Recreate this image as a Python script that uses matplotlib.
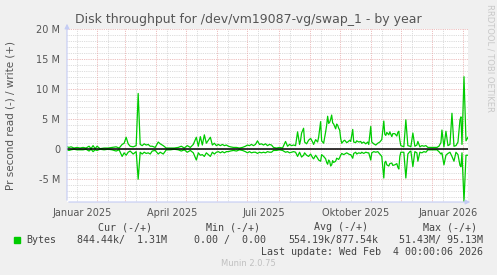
import numpy as np
import matplotlib
matplotlib.use('Agg')
import matplotlib.pyplot as plt
from datetime import datetime, timedelta

# munin year view: 400 days ending at last update
end = datetime(2026, 2, 4)
start = end - timedelta(days=400)

# samples: day offset from start, write (+) and read (-) in MB/s
days = [0, 2, 4, 7, 10, 13, 16, 19, 22, 24, 26, 28, 30, 33,
        37, 41, 45, 49, 52, 55, 57, 59, 61, 63, 66, 69, 71,
        73, 75, 77, 79, 81, 83, 85, 88, 91, 93, 96, 99,
        103, 107, 111, 114, 117, 120, 123, 126, 129, 131,
        133, 135, 137, 139, 141, 143, 145, 147, 149, 151,
        153, 155, 157, 159, 161, 163,
        166, 169, 172, 175, 178, 180, 182, 184, 186, 188,
        190, 192, 194, 196, 198, 200, 202, 204, 206, 209,
        212, 215, 218, 220, 222, 224, 226, 228,
        230, 232, 233, 234, 236, 237, 239, 241, 243, 245,
        246, 248, 250, 251, 253, 254, 256, 258, 259, 260,
        261, 262, 263, 264, 265, 266, 268, 269, 270, 271, 272, 273,
        274, 276, 277, 279, 280, 282, 283, 285, 286, 288,
        289, 291, 293, 294, 296, 298, 300, 301, 303, 304,
        306, 308, 310, 312, 314, 316, 317, 318, 319, 321,
        322, 324, 325, 327, 329, 330, 331, 332, 333,
        336, 338, 340, 342, 343, 345, 347, 349, 350, 352,
        354, 356, 358, 360, 363, 366, 369, 371, 373, 374,
        376, 378, 380, 382, 384, 386, 388, 390, 392, 393,
        394, 396, 398, 400]
write_mb = [0.4, 0.3, 0.4, 0.2, 0.3, 0.2, 0.3, 0.2, 0.5, 0.1, 0.6, 0.1, 0.5, 0.1,
            0.2, 0.2, 0.3, 0.4, 0.2, 0.8, 1.0, 2.0, 0.9, 0.5, 0.4, 0.6, 9.3,
            0.8, 0.6, 0.9, 0.7, 0.8, 0.5, 0.5, 0.3, 1.2, 0.9, 0.6, 0.2,
            0.2, 0.2, 0.3, 0.5, 0.2, 0.6, 0.3, 0.8, 2.0, 0.5,
            2.1, 0.7, 2.4, 1.0, 1.5, 2.0, 0.7, 1.0, 0.6, 0.8,
            0.6, 0.8, 0.6, 0.7, 0.5, 0.4,
            0.3, 0.3, 0.2, 0.3, 0.5, 0.7, 0.6, 0.8, 0.6, 0.8,
            1.4, 0.8, 0.9, 0.7, 0.9, 0.6, 0.8, 0.7, 0.3, 0.2,
            0.3, 0.2, 1.3, 0.5, 0.8, 0.6, 0.7, 0.6,
            2.9, 0.8, 1.5, 2.7, 3.5, 1.2, 0.9, 1.5, 1.8, 1.2,
            0.8, 1.6, 1.2, 2.0, 4.6, 1.4, 1.0, 2.9, 4.0, 5.5,
            4.3, 4.5, 5.0, 5.7, 4.4, 4.2, 3.4, 4.2, 4.0, 3.5, 3.2, 1.8,
            1.0, 1.4, 1.5, 1.1, 1.2, 1.5, 1.3, 3.3, 1.2, 1.1,
            1.4, 1.2, 1.3, 1.0, 1.2, 0.9, 1.2, 0.8, 3.8, 1.2,
            0.9, 0.7, 1.0, 1.2, 1.6, 4.7, 2.5, 2.3, 2.8, 2.4,
            2.9, 2.1, 2.6, 2.6, 2.2, 2.8, 3.0, 1.5, 0.6,
            0.4, 4.9, 0.6, 0.5, 0.4, 2.7, 0.5, 0.7, 1.3, 0.4,
            0.6, 0.5, 0.6, 0.3, 0.3, 0.3, 0.3, 0.5, 1.1, 3.2,
            0.4, 3.0, 0.6, 0.8, 6.0, 0.5, 0.6, 1.2, 4.9, 5.4,
            0.8, 12.1, 1.4, 2.0]
read_mb = [0.1, 0.2, 0.1, 0.0, 0.1, 0.1, 0.1, 0.0, 0.3, 0.0, 0.4, 0.1, 0.2, 0.0,
           0.1, 0.0, 0.1, 0.3, 0.1, 1.2, 0.6, 1.0, 0.5, 0.3, 0.8, 0.4, 5.0,
           0.5, 0.8, 0.5, 0.7, 0.6, 0.8, 0.3, 0.2, 0.8, 0.5, 0.8, 0.1,
           0.1, 0.0, 0.1, 0.3, 0.1, 0.5, 0.2, 0.6, 1.8, 0.6,
           1.0, 0.9, 1.2, 0.6, 0.9, 1.2, 0.5, 0.8, 0.5, 0.4,
           0.6, 0.4, 0.6, 0.4, 0.4, 0.3,
           0.2, 0.3, 0.1, 0.2, 0.4, 0.6, 0.4, 0.6, 0.5, 0.5,
           0.7, 0.5, 0.6, 0.5, 0.6, 0.4, 0.5, 0.5, 0.2, 0.2,
           0.1, 0.2, 0.5, 0.4, 0.6, 0.5, 0.4, 0.5,
           1.2, 0.5, 0.9, 1.3, 1.0, 0.6, 1.0, 1.2, 0.8, 1.4,
           1.6, 1.0, 1.5, 1.8, 2.0, 0.9, 1.2, 1.6, 2.2, 2.5,
           1.8, 2.0, 2.8, 2.6, 1.9, 2.2, 2.0, 1.5, 1.6, 1.7, 1.4, 1.0,
           0.7, 0.9, 0.8, 0.6, 0.7, 0.9, 0.9, 1.5, 0.7, 0.5,
           0.8, 0.6, 0.7, 0.5, 0.7, 0.5, 0.6, 0.6, 1.8, 0.6,
           0.4, 0.5, 0.4, 0.8, 1.2, 4.8, 2.2, 2.0, 2.6, 2.8,
           2.4, 2.3, 2.7, 2.6, 2.4, 3.0, 3.3, 1.2, 0.5,
           0.5, 4.8, 0.8, 0.4, 0.3, 2.9, 0.4, 0.6, 2.0, 0.5,
           0.6, 0.4, 0.5, 0.1, 0.1, 0.1, 0.1, 0.4, 0.8, 0.6,
           2.6, 1.0, 0.7, 0.5, 1.2, 2.0, 0.5, 0.9, 2.7, 2.9,
           0.6, 8.7, 1.0, 1.0]

ytick_vals = [-5, 0, 5, 10, 15, 20]
ytick_labels = ['-5 M', '0', '5 M', '10 M', '15 M', '20 M']
xtick_dates = [datetime(2025, 1, 15), datetime(2025, 4, 15), datetime(2025, 7, 15),
               datetime(2025, 10, 15), datetime(2026, 1, 15)]
xtick_labels = ['Januar 2025', 'April 2025', 'Juli 2025', 'Oktober 2025', 'Januar 2026']

W, H = 497, 275
fig = plt.figure(figsize=(W / 100, H / 100), dpi=100, facecolor='#f0f0f0')
ax = fig.add_axes([67 / W, 1 - 202 / H, (468 - 67) / W, (202 - 29.3) / H])
ax.set_facecolor('white')
for s in ax.spines.values():
    s.set_visible(False)

t = [start + timedelta(days=d) for d in days]
ax.set_xlim(start, end)
ax.set_ylim(-8.8e6, 20e6)

# grid
dots = (0, (1, 1.2))
for v in range(-8, 21):
    if v % 5 == 0:
        ax.axhline(v * 1e6, color='#e8a8a8', lw=0.6, ls=dots, zorder=0.5)
    else:
        ax.axhline(v * 1e6, color='#d0d0d0', lw=0.6, ls=dots, zorder=0.4)
m = datetime(2025, 1, 1)
while m < end:
    ax.axvline(m - timedelta(days=2), color='#e8a8a8', lw=0.6, ls=dots, zorder=0.5)
    mid = m + timedelta(days=9)
    if mid < end:
        ax.axvline(mid, color='#d0d0d0', lw=0.6, ls=dots, zorder=0.4)
    m = datetime(m.year + (m.month == 12), m.month % 12 + 1, 1)

ax.plot(t, np.array(write_mb) * 1e6, color='#00cc00', lw=0.9, zorder=2)
ax.plot(t, -np.array(read_mb) * 1e6, color='#00cc00', lw=0.9, zorder=2)
ax.axhline(0, color='black', lw=1.1, zorder=3)

ax.set_yticks([v * 1e6 for v in ytick_vals])
ax.set_yticklabels(ytick_labels)
ax.set_xticks(xtick_dates)
ax.set_xticklabels(xtick_labels)
ax.tick_params(axis='y', length=0, pad=5, labelsize=7, labelcolor='#555555')
ax.tick_params(axis='x', length=0, pad=4, labelsize=7, labelcolor='#555555')

# axes with arrows
acol = '#c4ccf4'
ax.annotate('', xy=(473, H - 202), xytext=(66, H - 202), xycoords='figure pixels',
            textcoords='figure pixels',
            arrowprops=dict(arrowstyle='-|>', color=acol, lw=0.8, mutation_scale=7))
ax.annotate('', xy=(67, H - 21), xytext=(67, H - 203), xycoords='figure pixels',
            textcoords='figure pixels',
            arrowprops=dict(arrowstyle='-|>', color=acol, lw=0.8, mutation_scale=7))

fig.text(248 / W, 1 - 19 / H, 'Disk throughput for /dev/vm19087-vg/swap_1 - by year',
         ha='center', va='center', fontsize=9, color='#555555')
fig.text(11 / W, 1 - 115 / H, 'Pr second read (-) / write (+)', rotation=90,
         ha='center', va='center', fontsize=7.5, color='#555555')
fig.text(490 / W, 1 - 4 / H, 'RRDTOOL / TOBI OETIKER', rotation=270,
         ha='center', va='top', fontsize=6, color='#c8c8c8')

mono = dict(family='DejaVu Sans Mono', fontsize=7.2, color='#444444', va='center')
y1, y2, y3 = 1 - 227 / H, 1 - 240 / H, 1 - 252 / H
fig.text(125 / W, y1, 'Cur (-/+)', ha='center', **mono)
fig.text(233 / W, y1, 'Min (-/+)', ha='center', **mono)
fig.text(341 / W, y1, 'Avg (-/+)', ha='center', **mono)
fig.text(450 / W, y1, 'Max (-/+)', ha='center', **mono)
fig.patches.append(plt.Rectangle((14 / W, 1 - 243 / H), 6 / W, 6 / H,
                                 transform=fig.transFigure, color='#00cc00'))
fig.text(26 / W, y2, 'Bytes', ha='left', **mono)
fig.text(167 / W, y2, '844.44k/  1.31M', ha='right', **mono)
fig.text(266 / W, y2, '0.00 /  0.00', ha='right', **mono)
fig.text(378 / W, y2, '554.19k/877.54k', ha='right', **mono)
fig.text(483 / W, y2, '51.43M/ 95.13M', ha='right', **mono)
fig.text(483 / W, y3, 'Last update: Wed Feb  4 00:00:06 2026', ha='right', **mono)
fig.text(248 / W, 1 - 263 / H, 'Munin 2.0.75', ha='center', va='center',
         fontsize=6, color='#c0c0c0')

fig.savefig('out.png', dpi=100, facecolor=fig.get_facecolor())
